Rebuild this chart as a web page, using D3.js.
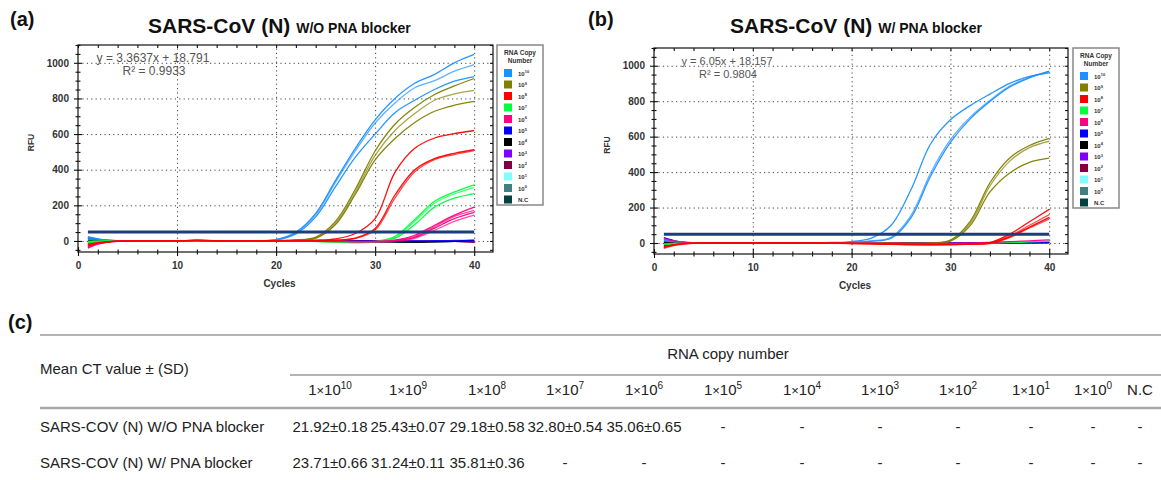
<!DOCTYPE html>
<html>
<head>
<meta charset="utf-8">
<script src="https://cdn.jsdelivr.net/npm/d3@7"></script>
<style>
body { margin: 0; background: #fff; }
svg text { font-family: "Liberation Sans", Arial, sans-serif; }
</style>
</head>
<body>
<svg id="fig" width="1161" height="480"></svg>
<script>
// ---- data ----
var cycles = [1,2,3,4,6,8,10,12,14,16,18,20,22,24,26,28,30,32,34,36,38,40];

var legendExp = ["10","9","8","7","6","5","4","3","2","1","0","N.C"];
var legendColors = ["#1e90ff","#808000","#ff0000","#00ff40","#ff0080","#0000ff",
                    "#000000","#8000ff","#800040","#80ffff","#408080","#004040"];

// panel (a) W/O PNA blocker, RFU per replicate
var a_e10 = [
  [18,10,4,1,0,1,-1,2,0,1,2,8,50,155,340,520,680,800,885,935,1000,1047],
  [12,6,2,0,1,0,1,0,2,1,1,7,45,148,330,505,662,775,860,900,953,990],
  [24,12,5,2,0,1,0,1,0,0,1,6,40,135,305,470,600,720,790,850,897,923]];
var a_e9 = [
  [-8,-4,-1,0,1,0,1,3,1,0,1,2,6,22,110,290,505,655,750,822,870,912],
  [-12,-6,-2,-1,0,1,0,2,1,1,0,1,5,18,100,275,480,620,715,790,825,845],
  [-15,-8,-3,-1,0,0,1,1,0,1,0,1,4,15,92,262,455,575,665,728,762,783]];
var a_e8 = [
  [-20,-10,-4,-1,0,1,0,4,1,0,1,2,3,5,12,42,125,385,520,578,603,620],
  [-28,-14,-6,-2,0,0,1,3,0,1,0,1,2,1,4,14,62,240,388,457,485,507],
  [-24,-12,-5,-2,1,0,1,2,1,0,1,0,2,2,5,16,70,258,400,462,492,512]];
var a_e7 = [
  [-5,-2,0,0,1,0,1,0,1,0,0,1,0,-2,-4,-6,-2,25,120,223,275,315],
  [-8,-4,-1,0,0,1,0,1,0,1,0,0,-1,-3,-5,-8,-4,20,110,212,265,300],
  [-3,-1,0,1,0,0,1,0,0,1,1,0,-1,-2,-6,-10,-6,15,92,190,240,266]];
var a_e6 = [
  [-40,-18,-6,-2,0,1,0,3,1,0,1,0,1,0,-1,-2,-2,5,32,88,145,190],
  [-32,-15,-5,-1,0,0,1,2,0,1,0,1,0,-1,-2,-3,-3,3,26,80,138,172],
  [-36,-16,-6,-2,1,0,0,3,1,0,1,0,0,-1,-1,-4,-4,1,20,72,125,160],
  [-28,-12,-4,-1,0,1,0,2,0,0,1,0,-1,-2,-3,-5,-5,-2,15,60,110,145]];
var a_e5 = [[20,9,3,1,0,1,0,1,0,0,1,0,1,0,0,1,0,0,-1,0,1,2]];
var a_e4 = [[5,3,1,0,0,0,1,0,0,1,0,0,0,-1,0,0,-2,-4,-6,-4,-2,0]];
var a_e3 = [[15,7,2,1,0,1,0,0,1,0,0,1,0,0,1,0,0,1,0,0,1,0]];
var a_e2 = [[-18,-9,-3,-1,0,0,1,0,0,0,1,0,0,0,-1,0,-1,0,-1,0,-2,-8]];
var a_e1 = [[8,4,1,0,0,1,0,0,0,1,0,0,1,0,0,0,1,0,0,1,2,3]];
var a_e0 = [[2,1,0,0,0,0,0,1,0,0,0,0,0,0,0,-1,0,0,0,1,3,5]];
var a_nc = [[-6,-3,-1,0,0,0,0,0,-1,0,0,0,-1,-2,-3,-4,-6,-8,-8,-6,-2,6]];

// panel (b) W/ PNA blocker
var b_e10 = [
  [20,10,4,1,0,0,1,0,2,1,3,8,28,100,300,560,695,775,840,900,940,960],
  [12,6,2,0,0,1,0,1,0,1,2,4,12,32,155,395,583,710,805,885,935,966],
  [16,8,3,1,0,1,0,0,1,0,1,3,10,27,142,378,568,700,798,880,932,970]];
var b_e9 = [
  [-6,-3,-1,0,0,1,0,1,0,1,0,1,2,0,-1,1,16,122,340,480,550,590],
  [-10,-5,-2,-1,0,0,1,0,1,0,1,0,1,0,-2,0,13,110,322,462,538,574],
  [-4,-2,0,0,1,0,0,1,0,0,0,0,1,-1,-2,-1,10,98,288,395,455,479]];
var b_e8 = [
  [-26,-12,-5,-2,0,1,0,1,0,0,-1,-2,-4,-6,-8,-8,-8,-5,2,50,120,190],
  [-30,-14,-6,-2,0,0,0,0,1,0,-1,-3,-5,-7,-10,-10,-9,-6,0,40,100,160],
  [-20,-10,-4,-1,0,0,1,0,0,-1,-2,-3,-5,-7,-9,-10,-9,-6,-1,35,90,145],
  [-24,-11,-4,-1,1,0,0,0,0,0,-1,-2,-4,-6,-8,-9,-9,-7,-3,30,85,135]];
var b_e7 = [[-8,-4,-1,0,0,1,0,0,1,0,0,-1,-2,-3,-4,-4,-4,-3,-1,2,6,10]];
var b_e6 = [[25,12,4,1,0,0,1,0,0,0,0,1,0,-1,-2,-2,-2,0,3,8,12,18]];
var b_e5 = [[30,14,5,2,0,1,0,0,1,0,0,0,1,0,0,0,-1,0,0,1,2,3]];
var b_e4 = [[4,2,1,0,0,0,0,0,0,0,0,0,0,0,-1,-1,-2,-2,-1,0,2,3]];
var b_e3 = [[10,5,2,1,0,0,1,0,0,0,1,0,0,0,-1,0,-1,0,1,2,3,5]];
var b_e2 = [[-15,-7,-2,-1,0,0,0,1,0,0,0,0,-1,-1,-2,-2,-3,-2,-1,0,1,2]];
var b_e1 = [[6,3,1,0,0,0,0,0,0,1,0,0,0,0,0,0,0,0,1,1,2,4]];
var b_e0 = [[-2,-1,0,0,0,0,0,0,0,0,0,0,0,0,-1,-1,-1,0,0,1,2,3]];
var b_nc = [[-12,-6,-2,-1,0,0,0,0,0,0,0,-1,-1,-2,-2,-3,-3,-3,-2,-1,2,4]];

var thresholdA = 50, thresholdB = 50;
var eqA = ["y = 3.3637x + 18.791", "R\u00b2 = 0.9933"];
var eqB = ["y = 6.05x + 18.157", "R\u00b2 = 0.9804"];

var yMajor = [0,200,400,600,800,1000];
var xMajor = [0,10,20,30,40];

// table (c)
var tableExp = ["10","9","8","7","6","5","4","3","2","1","0"];
var rowLabels = ["SARS-COV (N) W/O PNA blocker", "SARS-COV (N) W/ PNA blocker"];
var rowWO = ["21.92\u00b10.18","25.43\u00b10.07","29.18\u00b10.58","32.80\u00b10.54","35.06\u00b10.65","-","-","-","-","-","-","-"];
var rowW  = ["23.71\u00b10.66","31.24\u00b10.11","35.81\u00b10.36","-","-","-","-","-","-","-","-","-"];

// ---- drawing ----
var svg = d3.select("#fig");

function drawPanel(p) {
    var g = svg.append("g");
    var x = d3.scaleLinear().domain([0, 41.9]).range([p.left, p.right]);
    var y = d3.scaleLinear().domain([-62, 1100]).range([p.bottom, p.top]);

    //grid
    g.append("g").attr("transform", "translate(" + p.left + ",0)")
        .call(d3.axisRight(y).tickValues(yMajor).tickSize(p.right - p.left).tickFormat(""))
        .call(function(s){ s.select(".domain").remove(); })
        .selectAll("line").attr("stroke", "#444").attr("stroke-dasharray", "1.2,3.2");
    g.append("g").attr("transform", "translate(0," + p.bottom + ")")
        .call(d3.axisTop(x).tickValues([10,20,30,40]).tickSize(p.bottom - p.top).tickFormat(""))
        .call(function(s){ s.select(".domain").remove(); })
        .selectAll("line").attr("stroke", "#444").attr("stroke-dasharray", "1.2,3.2");

    //curves
    var line = d3.line()
        .x(function(d, i){ return x(cycles[i]); })
        .y(function(d){ return y(d); })
        .curve(d3.curveCatmullRom.alpha(0.5));
    var clipId = "clip" + p.name;
    g.append("clipPath").attr("id", clipId).append("rect")
        .attr("x", p.left).attr("y", p.top).attr("width", p.right - p.left).attr("height", p.bottom - p.top);
    var cg = g.append("g").attr("clip-path", "url(#" + clipId + ")");
    p.curves.forEach(function(c){
        c.reps.forEach(function(vals, k){
            cg.append("path")
                .attr("d", line(vals))
                .attr("fill", "none")
                .attr("stroke", c.color)
                .attr("stroke-width", 1.3)
                .attr("stroke-opacity", k % 2 ? 0.7 : 0.95);
        });
    });

    //threshold
    cg.append("path")
        .attr("d", d3.line().x(function(d){ return x(d); }).y(y(p.threshold))([1, 40]))
        .attr("stroke", "#1c3f7c").attr("stroke-width", 3).attr("fill", "none");

    //frame
    g.append("rect").attr("x", p.left).attr("y", p.top)
        .attr("width", p.right - p.left).attr("height", p.bottom - p.top)
        .attr("fill", "none").attr("stroke", "#111").attr("stroke-width", 1.2);

    var yMinor = d3.range(-50, 1101, 50).filter(function(v){ return yMajor.indexOf(v) < 0; });
    var xMinor = d3.range(2, 41.9, 2).filter(function(v){ return v % 10 !== 0; });

    function ticks(axis, tx, ty) {
        g.append("g").attr("transform", "translate(" + tx + "," + ty + ")")
            .call(axis)
            .call(function(s){ s.select(".domain").remove(); })
            .selectAll("line").attr("stroke", "#111").attr("stroke-width", 1.1);
    }
    // left axis with labels
    ticks(d3.axisLeft(y).tickValues(yMajor).tickSize(4).tickPadding(5).tickFormat(d3.format("d")), p.left, 0);
    ticks(d3.axisRight(y).tickValues(yMajor).tickSize(4).tickFormat(""), p.left, 0);
    ticks(d3.axisLeft(y).tickValues(yMinor).tickSize(2.5).tickFormat(""), p.left, 0);
    ticks(d3.axisRight(y).tickValues(yMinor).tickSize(2.5).tickFormat(""), p.left, 0);
    // right frame ticks
    ticks(d3.axisLeft(y).tickValues(yMajor.concat(yMinor)).tickSize(3).tickFormat(""), p.right, 0);
    // bottom axis with labels
    ticks(d3.axisBottom(x).tickValues(xMajor).tickSize(4).tickPadding(6), 0, p.bottom);
    ticks(d3.axisTop(x).tickValues(xMajor).tickSize(5).tickFormat(""), 0, p.bottom);
    ticks(d3.axisTop(x).tickValues(xMinor).tickSize(2.5).tickFormat(""), 0, p.bottom);
    ticks(d3.axisBottom(x).tickValues(xMinor).tickSize(2.5).tickFormat(""), 0, p.bottom);
    // top frame ticks
    ticks(d3.axisBottom(x).tickValues(xMajor.concat(xMinor)).tickSize(3).tickFormat(""), 0, p.top);

    g.selectAll(".tick text")
        .attr("font-family", "Liberation Sans, Arial, sans-serif")
        .attr("font-size", "10px").attr("font-weight", "bold").attr("fill", "#333");

    //axis labels
    g.append("text")
        .attr("transform", "translate(" + (p.left - 44) + "," + ((p.top + p.bottom) / 2 - 6) + ") rotate(-90)")
        .attr("text-anchor", "middle").attr("font-size", "8.5px").attr("font-weight", "bold")
        .attr("fill", "#333").text("RFU");
    g.append("text")
        .attr("x", (p.left + p.right) / 2 - 6).attr("y", p.bottom + 35)
        .attr("text-anchor", "middle").attr("font-size", "10px").attr("font-weight", "bold")
        .attr("fill", "#333").text("Cycles");

    //equation
    g.append("text").attr("x", p.eqX).attr("y", p.top + 17)
        .attr("text-anchor", "middle").attr("font-size", p.eqSize).attr("fill", "#555").text(p.eq[0]);
    g.append("text").attr("x", p.eqX + 1).attr("y", p.top + 30)
        .attr("text-anchor", "middle").attr("font-size", p.eqSize).attr("fill", "#555").text(p.eq[1]);

    //legend
    var lg = svg.append("g").attr("transform", "translate(" + p.legX + "," + p.top + ")");
    lg.append("rect").attr("x", 0).attr("y", 0).attr("width", 46).attr("height", 160)
        .attr("fill", "#fff").attr("stroke", "#888").attr("stroke-width", 1.5);
    lg.append("text").attr("x", 23).attr("y", 10).attr("text-anchor", "middle")
        .attr("font-size", "6.5px").attr("font-weight", "bold").attr("fill", "#333").text("RNA Copy");
    lg.append("text").attr("x", 23).attr("y", 18).attr("text-anchor", "middle")
        .attr("font-size", "6.5px").attr("font-weight", "bold").attr("fill", "#333").text("Number");
    var items = lg.selectAll("g.item").data(legendExp).enter().append("g")
        .attr("transform", function(d, i){ return "translate(7," + (24 + i * 11.5) + ")"; });
    items.append("rect").attr("width", 8).attr("height", 8)
        .attr("fill", function(d, i){ return legendColors[i]; });
    var lt = items.append("text").attr("x", 14).attr("y", 6.5)
        .attr("font-size", "6px").attr("font-weight", "bold").attr("fill", "#333");
    lt.each(function(d){
        var t = d3.select(this);
        if (d === "N.C") { t.text("N.C"); return; }
        t.append("tspan").text("10");
        t.append("tspan").attr("dy", -2.5).attr("font-size", "4px").text(d);
    });

    //title
    svg.append("text").attr("x", p.tagX).attr("y", 26)
        .attr("font-size", "20px").attr("font-weight", "bold").attr("fill", "#111").text(p.tag);
    var tt = svg.append("text").attr("x", p.titleX).attr("y", 33)
        .attr("font-weight", "bold").attr("fill", "#111");
    tt.append("tspan").attr("font-size", "21px").text("SARS-CoV (N) ");
    tt.append("tspan").attr("font-size", "14px").text(p.sub);
}

function series(list) {
    // draw order: flat series first, amplified ones last
    var order = [11,10,9,8,7,6,5,0,1,3,4,2];
    return order.map(function(i){ return {color: legendColors[i], reps: list[i]}; });
}

drawPanel({
    name: "A", tag: "(a)", tagX: 10, titleX: 148, sub: "W/O PNA blocker",
    left: 78, right: 493, top: 45, bottom: 252,
    curves: series([a_e10,a_e9,a_e8,a_e7,a_e6,a_e5,a_e4,a_e3,a_e2,a_e1,a_e0,a_nc]),
    threshold: thresholdA, eq: eqA, eqX: 153, eqSize: "12px", legX: 497
});
drawPanel({
    name: "B", tag: "(b)", tagX: 588, titleX: 730, sub: "W/ PNA blocker",
    left: 654, right: 1068, top: 48, bottom: 254,
    curves: series([b_e10,b_e9,b_e8,b_e7,b_e6,b_e5,b_e4,b_e3,b_e2,b_e1,b_e0,b_nc]),
    threshold: thresholdB, eq: eqB, eqX: 727, eqSize: "11px", legX: 1073
});

// ---- table (c) ----
var colX = [330,408,487,565,644,723,802,880,958,1031,1093,1140];
var tg = svg.append("g").attr("font-size", "15px").attr("fill", "#222");

svg.append("text").attr("x", 8).attr("y", 329)
    .attr("font-size", "20px").attr("font-weight", "bold").attr("fill", "#111").text("(c)");

tg.append("line").attr("x1", 40).attr("x2", 1161).attr("y1", 335).attr("y2", 335)
    .attr("stroke", "#9a9a9a").attr("stroke-width", 1.5);
tg.append("line").attr("x1", 290).attr("x2", 1161).attr("y1", 375).attr("y2", 375)
    .attr("stroke", "#9a9a9a").attr("stroke-width", 1.5);
tg.append("line").attr("x1", 40).attr("x2", 1161).attr("y1", 408).attr("y2", 408)
    .attr("stroke", "#a8a8a8").attr("stroke-width", 2.5);

tg.append("text").attr("x", 40).attr("y", 374).text("Mean CT value \u00b1 (SD)");
tg.append("text").attr("x", 728).attr("y", 359).attr("text-anchor", "middle").text("RNA copy number");

var hdr = tg.selectAll("text.hdr").data(tableExp.concat(["N.C"])).enter().append("text")
    .attr("class", "hdr")
    .attr("x", function(d, i){ return colX[i]; }).attr("y", 395)
    .attr("text-anchor", "middle");
hdr.each(function(d){
    var t = d3.select(this);
    if (d === "N.C") { t.text("N.C"); return; }
    t.append("tspan").text("1");
    t.append("tspan").attr("font-size", "13px").text("\u00d7");
    t.append("tspan").text("10");
    t.append("tspan").attr("dy", -6).attr("font-size", "10px").text(d);
});

[rowWO, rowW].forEach(function(row, r){
    var yy = r === 0 ? 432 : 468;
    tg.append("text").attr("x", 40).attr("y", yy).text(rowLabels[r]);
    tg.selectAll(null).data(row).enter().append("text")
        .attr("x", function(d, i){ return colX[i]; }).attr("y", yy)
        .attr("text-anchor", "middle").text(function(d){ return d; });
});
</script>
</body>
</html>
